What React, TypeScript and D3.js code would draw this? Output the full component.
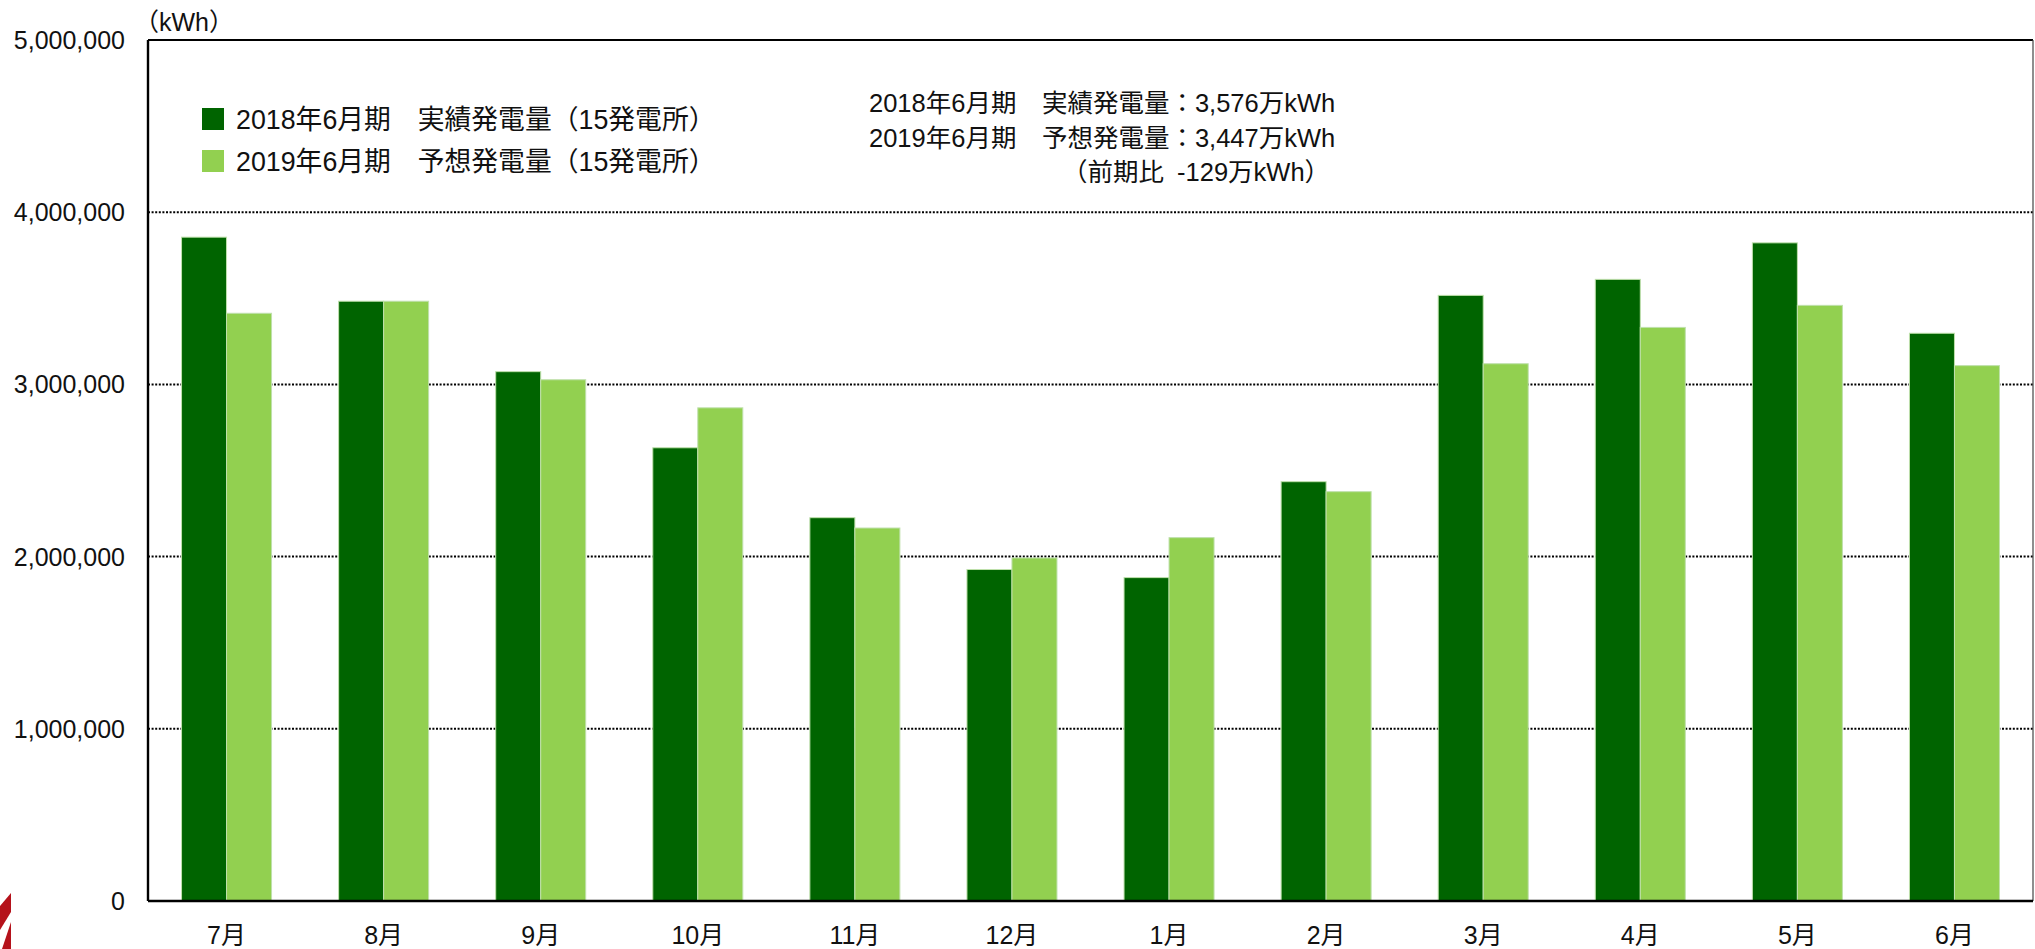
import * as d3 from 'd3';

const months = ['7月', '8月', '9月', '10月', '11月', '12月', '1月', '2月', '3月', '4月', '5月', '6月'];
const actual2018 = [3855000, 3483000, 3074000, 2632000, 2226000, 1925000, 1878000, 2435000, 3517000, 3610000, 3822000, 3297000];
const forecast2019 = [3413000, 3483000, 3027000, 2864000, 2166000, 1992000, 2110000, 2377000, 3120000, 3331000, 3459000, 3109000];
const seriesNames = ['2018年6月期　実績発電量（15発電所）', '2019年6月期　予想発電量（15発電所）'];
const seriesColors = ['#006400', '#92D050'];
const yTicks = [0, 1000000, 2000000, 3000000, 4000000, 5000000];
const summaryLines = [
  '2018年6月期　実績発電量：3,576万kWh',
  '2019年6月期　予想発電量：3,447万kWh',
];
const summaryDiff = '（前期比 -129万kWh）';

const WIDTH = 2035;
const HEIGHT = 949;
const FONT = "'Liberation Sans', Arial, 'Noto Sans CJK JP', sans-serif";

const plot = { left: 148, right: 2033, top: 40, bottom: 901 };

export default function App() {
  const x = d3.scaleBand<string>().domain(months).range([plot.left, plot.right]);
  const groupWidth = x.bandwidth() * 0.573;
  const xs = d3.scaleBand<number>().domain([0, 1]).range([0, groupWidth]);
  const y = d3.scaleLinear().domain([0, 5000000]).range([plot.bottom, plot.top]);
  const fmt = d3.format(',');
  const series = [actual2018, forecast2019];

  return (
    <div style={{ position: 'absolute', left: 0, top: 0 }}>
      <svg width={WIDTH} height={HEIGHT} style={{ display: 'block', background: '#fff' }} fontFamily={FONT}>
        {/* gridlines */}
        {yTicks.filter((t) => t > 0 && t < 5000000).map((t) => (
          <line
            key={t}
            x1={plot.left}
            x2={plot.right}
            y1={y(t)}
            y2={y(t)}
            stroke="#000"
            strokeWidth={2}
            strokeDasharray="2,1.6"
          />
        ))}

        {/* bars */}
        {months.map((m, i) => {
          const gx = (x(m) ?? 0) + (x.bandwidth() - groupWidth) / 2;
          return (
            <g key={m}>
              {series.map((s, k) => (
                <rect
                  key={k}
                  x={gx + (xs(k) ?? 0)}
                  y={y(s[i])}
                  width={xs.bandwidth()}
                  height={y(0) - y(s[i])}
                  fill={seriesColors[k]}
                  stroke="#bfe0ac"
                  strokeWidth={1}
                />
              ))}
            </g>
          );
        })}

        {/* frame */}
        <line x1={plot.left} x2={plot.right} y1={plot.top} y2={plot.top} stroke="#000" strokeWidth={2} />
        <line x1={plot.right} x2={plot.right} y1={plot.top} y2={plot.bottom} stroke="#444" strokeWidth={1.2} />
        <line x1={plot.left} x2={plot.left} y1={plot.top} y2={plot.bottom} stroke="#000" strokeWidth={2.4} />
        <line x1={plot.left} x2={plot.right} y1={plot.bottom} y2={plot.bottom} stroke="#000" strokeWidth={2.4} />

        {/* y axis labels */}
        {yTicks.map((t) => (
          <text key={t} x={125} y={y(t)} dy="0.36em" textAnchor="end" fontSize={25} fill="#111">
            {fmt(t)}
          </text>
        ))}
        <text x={134} y={22} dy="0.36em" fontSize={25} fill="#111">（kWh）</text>

        {/* x axis labels */}
        {months.map((m) => (
          <text
            key={m}
            x={(x(m) ?? 0) + x.bandwidth() / 2}
            y={935}
            dy="0.36em"
            textAnchor="middle"
            fontSize={25}
            fill="#111"
          >
            {m}
          </text>
        ))}

        {/* legend */}
        {seriesNames.map((name, k) => {
          const cy = 119 + k * 42;
          return (
            <g key={name}>
              <rect x={202} y={cy - 11} width={22} height={22} fill={seriesColors[k]} />
              <text x={236} y={cy} dy="0.36em" fontSize={26.8} fill="#111">
                {name}
              </text>
            </g>
          );
        })}

        {/* summary */}
        {summaryLines.map((line, k) => (
          <text key={line} x={869} y={103 + k * 35} dy="0.36em" fontSize={25.5} fill="#111">
            {line}
          </text>
        ))}
        <text x={1062} y={172} dy="0.36em" fontSize={25.5} fill="#111" style={{ wordSpacing: '6px' }}>
          {summaryDiff}
        </text>

        {/* cut-off logo at bottom-left corner */}
        <path d="M0,906 L11,893 L11,912 L0,930 Z" fill="#b5121b" />
        <path d="M11,922 L11,949 L2,949 Z" fill="#b5121b" />
      </svg>
    </div>
  );
}
